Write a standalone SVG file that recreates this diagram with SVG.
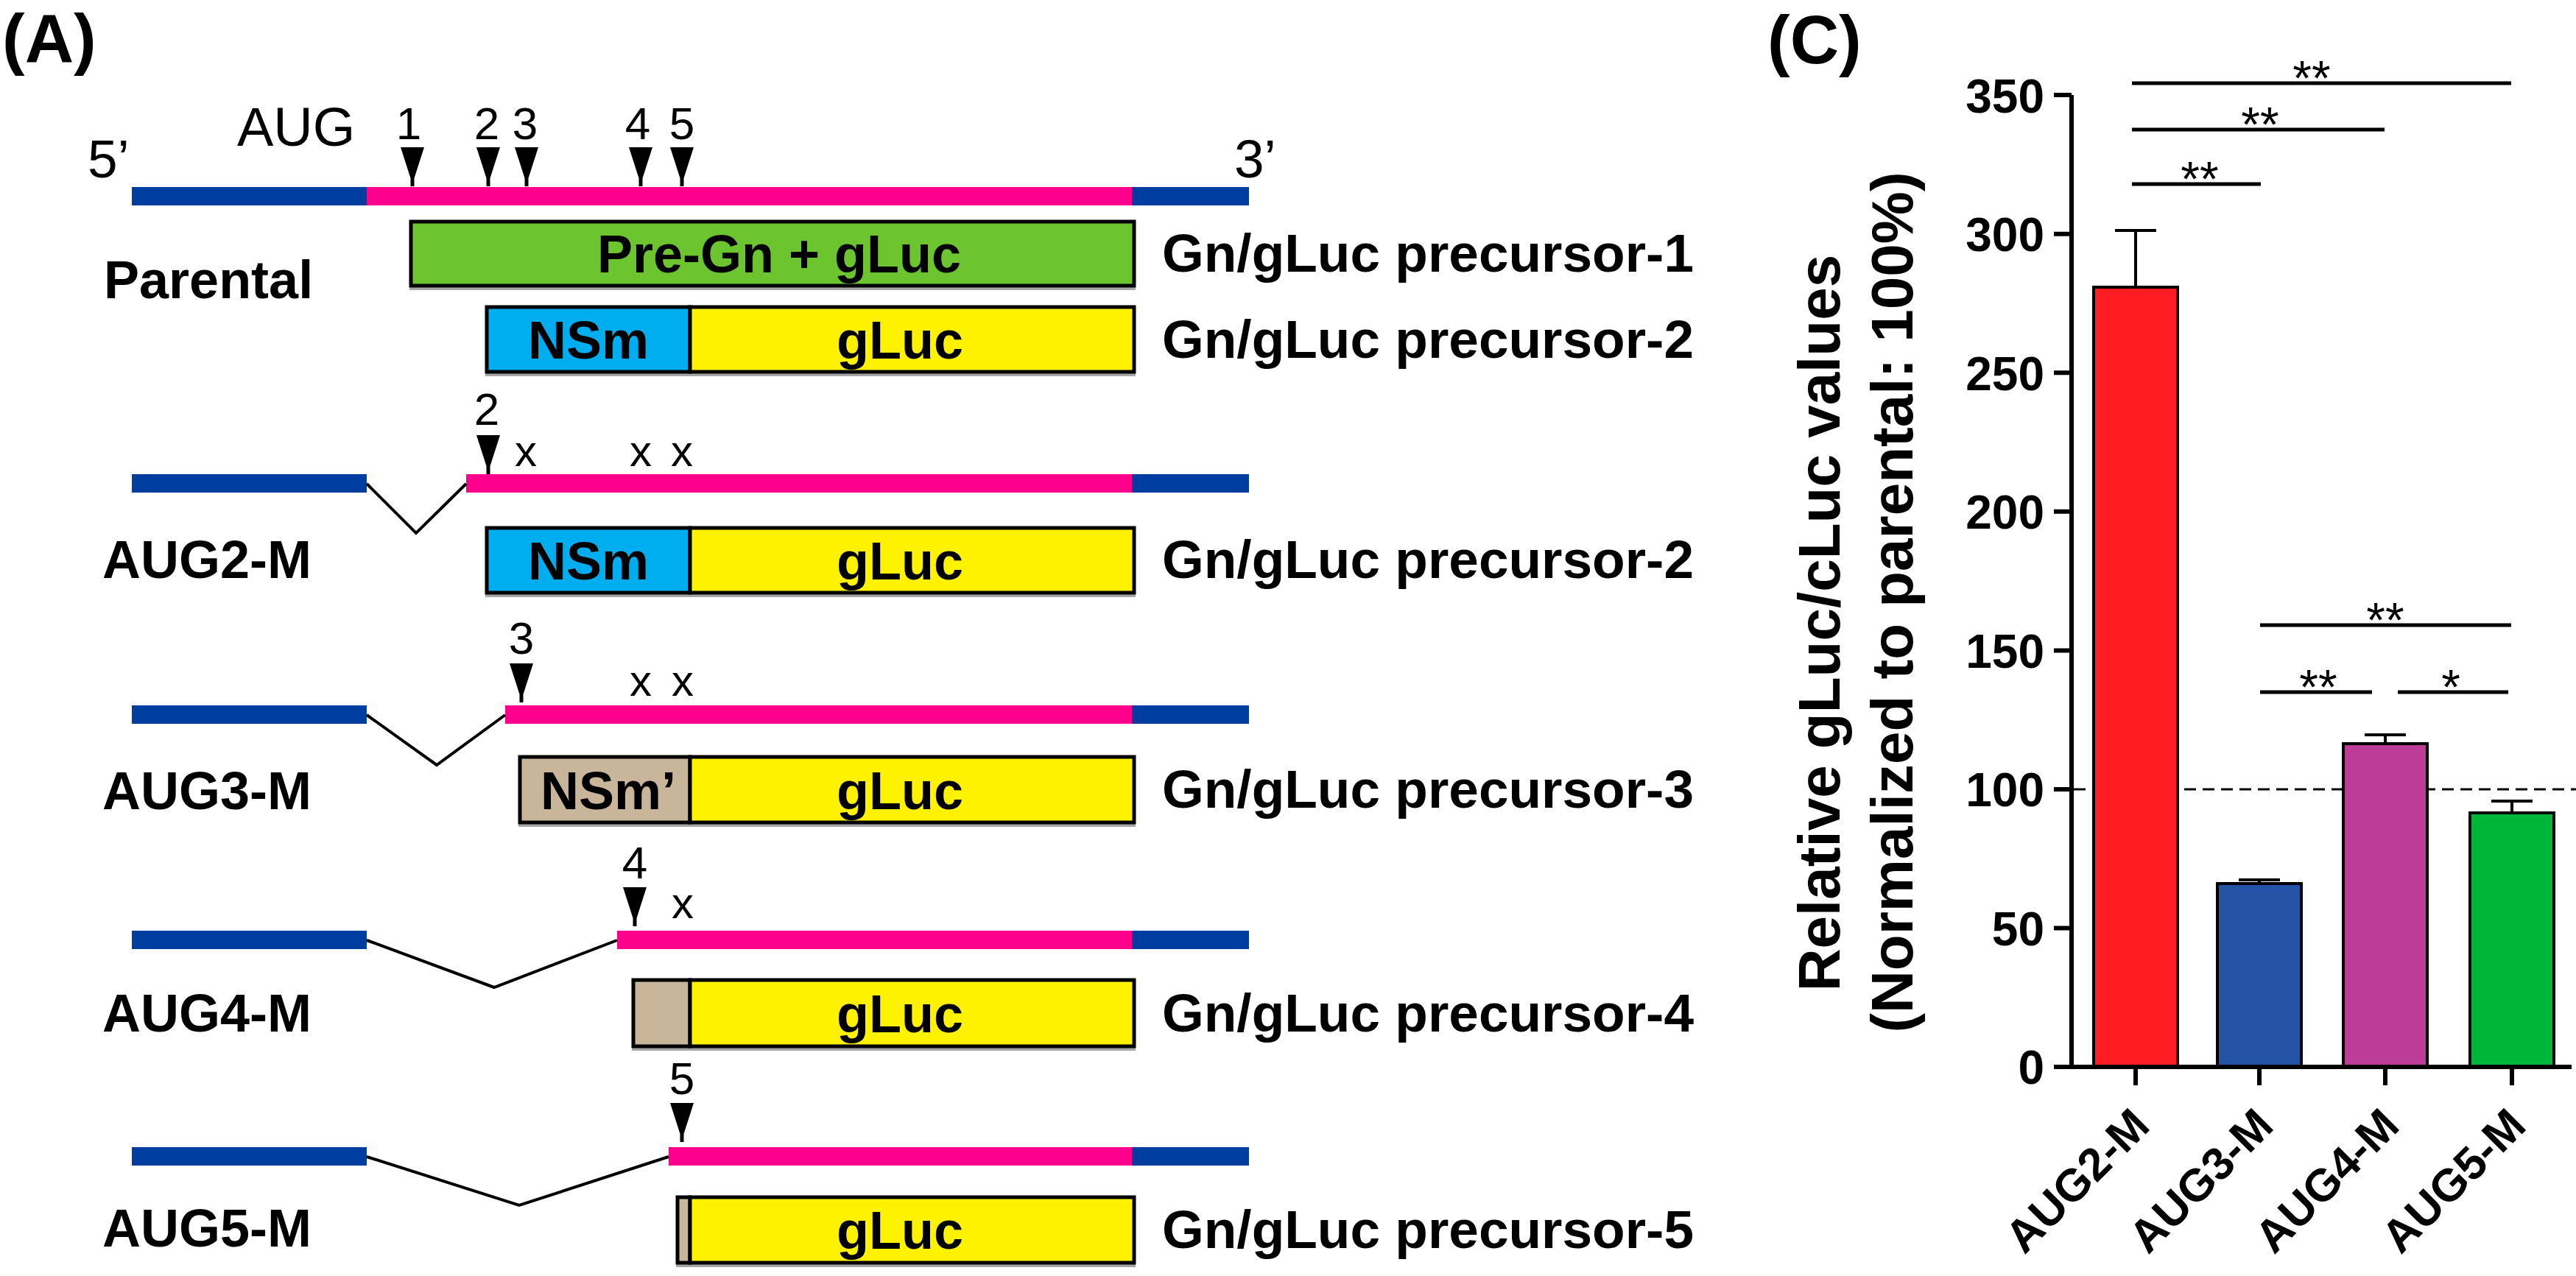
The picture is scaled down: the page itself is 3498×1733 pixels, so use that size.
<svg xmlns="http://www.w3.org/2000/svg" width="3498" height="1733" viewBox="0 0 3498 1733">
<defs>
<style>
text{font-family:'Liberation Sans',Arial,Helvetica,sans-serif;fill:#000}
.panel{font-weight:bold;font-size:92px}
.row{font-weight:bold;font-size:72px}
.prec{font-weight:bold;font-size:73px}
.box{font-weight:bold;font-size:72px;text-anchor:middle}
.num{font-size:62px;text-anchor:middle}
.x{font-size:60px;text-anchor:middle}
.end{font-size:73px}
.utr{fill:#003DA0}
.cds{fill:#FF008C}
.prot{stroke:#000;stroke-width:5}
.shadow{fill:#A6A6A6}
.green{fill:#6CC52E}
.cyan{fill:#00AEEF}
.yel{fill:#FFF200}
.tan{fill:#C8B59A}
.intr{fill:none;stroke:#000;stroke-width:4}
.tick{font-weight:bold;font-size:64px;text-anchor:end}
.ax{stroke:#000;stroke-width:6;fill:none}
.sig{stroke:#000;stroke-width:5}
.star{font-size:66px;text-anchor:middle}
.bar{stroke:#000;stroke-width:4}
.err{stroke:#000;stroke-width:4;fill:none}
.xl{font-weight:bold;font-size:62px;text-anchor:end}
.yl{font-weight:bold;font-size:80px;text-anchor:middle}
</style>
<path id="arr" d="M-16,0 H16 L2.5,42 V53 H-2.5 V42 Z" fill="#000"/>
</defs>
<rect width="3498" height="1733" fill="#fff"/>

<!-- Panel A -->
<text x="3" y="84" class="panel">(A)</text>

<g id="parental">
<text x="119" y="241" class="end">5’</text>
<text x="322" y="198" style="font-size:74px">AUG</text>
<text x="555" y="189" class="num">1</text>
<text x="661" y="189" class="num">2</text>
<text x="713" y="189" class="num">3</text>
<text x="866" y="189" class="num">4</text>
<text x="926" y="189" class="num">5</text>
<use href="#arr" transform="translate(560,200)"/>
<use href="#arr" transform="translate(663,200)"/>
<use href="#arr" transform="translate(715,200)"/>
<use href="#arr" transform="translate(870,200)"/>
<use href="#arr" transform="translate(926,200)"/>
<rect x="179" y="254" width="319" height="25" class="utr"/>
<rect x="498" y="254" width="1039" height="25" class="cds"/>
<rect x="1537" y="254" width="159" height="25" class="utr"/>
<text x="1676" y="241" class="end">3’</text>
<text x="141" y="405" class="row">Parental</text>
</g>

<g id="precursor1">
<rect x="556" y="390" width="986" height="4" class="shadow"/>
<rect x="558" y="301" width="982" height="87" class="prot green"/>
<text x="1058" y="370" class="box">Pre-Gn + gLuc</text>
<text x="1578" y="369" class="prec">Gn/gLuc precursor-1</text>
</g>

<g id="precursor2-parental">
<rect x="659" y="507" width="883" height="4" class="shadow"/>
<rect x="661" y="417" width="276" height="88" class="prot cyan"/>
<rect x="937" y="417" width="603" height="88" class="prot yel"/>
<text x="799" y="487" class="box">NSm</text>
<text x="1222" y="487" class="box">gLuc</text>
<text x="1578" y="486" class="prec">Gn/gLuc precursor-2</text>
</g>

<g id="aug2m">
<text x="661" y="577" class="num">2</text>
<use href="#arr" transform="translate(663,591)"/>
<text x="714" y="633" class="x">x</text>
<text x="870" y="633" class="x">x</text>
<text x="926" y="633" class="x">x</text>
<rect x="179" y="644" width="319" height="25" class="utr"/>
<rect x="633" y="644" width="904" height="25" class="cds"/>
<rect x="1537" y="644" width="159" height="25" class="utr"/>
<text x="139" y="785" class="row">AUG2-M</text>
<rect x="659" y="807" width="883" height="4" class="shadow"/>
<rect x="661" y="717" width="276" height="88" class="prot cyan"/>
<rect x="937" y="717" width="603" height="88" class="prot yel"/>
<text x="799" y="787" class="box">NSm</text>
<text x="1222" y="787" class="box">gLuc</text>
<text x="1578" y="785" class="prec">Gn/gLuc precursor-2</text>
</g>

<g id="aug3m">
<text x="708" y="888" class="num">3</text>
<use href="#arr" transform="translate(708,901)"/>
<text x="870" y="945" class="x">x</text>
<text x="927" y="945" class="x">x</text>
<rect x="179" y="958" width="319" height="25" class="utr"/>
<rect x="686" y="958" width="851" height="25" class="cds"/>
<rect x="1537" y="958" width="159" height="25" class="utr"/>
<text x="139" y="1099" class="row">AUG3-M</text>
<rect x="704" y="1119" width="838" height="4" class="shadow"/>
<rect x="706" y="1028" width="231" height="89" class="prot tan"/>
<rect x="937" y="1028" width="603" height="89" class="prot yel"/>
<text x="826" y="1099" class="box">NSm’</text>
<text x="1222" y="1099" class="box">gLuc</text>
<text x="1578" y="1097" class="prec">Gn/gLuc precursor-3</text>
</g>

<g id="aug4m">
<text x="862" y="1193" class="num">4</text>
<use href="#arr" transform="translate(862,1205)"/>
<text x="927" y="1247" class="x">x</text>
<rect x="179" y="1264" width="319" height="25" class="utr"/>
<rect x="838" y="1264" width="699" height="25" class="cds"/>
<rect x="1537" y="1264" width="159" height="25" class="utr"/>
<text x="139" y="1401" class="row">AUG4-M</text>
<rect x="858" y="1423" width="684" height="4" class="shadow"/>
<rect x="860" y="1331" width="77" height="90" class="prot tan"/>
<rect x="937" y="1331" width="603" height="90" class="prot yel"/>
<text x="1222" y="1402" class="box">gLuc</text>
<text x="1578" y="1401" class="prec">Gn/gLuc precursor-4</text>
</g>

<g id="aug5m">
<text x="926" y="1486" class="num">5</text>
<use href="#arr" transform="translate(926,1498)"/>
<rect x="179" y="1558" width="319" height="25" class="utr"/>
<rect x="908" y="1558" width="629" height="25" class="cds"/>
<rect x="1537" y="1558" width="159" height="25" class="utr"/>
<text x="139" y="1693" class="row">AUG5-M</text>
<rect x="918" y="1717" width="624" height="4" class="shadow"/>
<rect x="920" y="1626" width="17" height="89" class="prot tan"/>
<rect x="937" y="1626" width="603" height="89" class="prot yel"/>
<text x="1222" y="1696" class="box">gLuc</text>
<text x="1578" y="1695" class="prec">Gn/gLuc precursor-5</text>
</g>

<g id="connectors">
<polyline points="498,657 565,724 633,657" class="intr"/>
<polyline points="498,971 593,1039 686,971" class="intr"/>
<polyline points="498,1277 671,1341 838,1277" class="intr"/>
<polyline points="498,1571 705,1637 908,1571" class="intr"/>
</g>

<!-- Panel C -->
<text x="2400" y="86" class="panel">(C)</text>
<g id="chart">
<line x1="2816" y1="1072" x2="3498" y2="1072" stroke="#000" stroke-width="3" stroke-dasharray="16 9"/>
<g id="bars">
<rect x="2843" y="390" width="114" height="1059" class="bar" fill="#FF1D23"/>
<rect x="3011" y="1200" width="114" height="249" class="bar" fill="#2453A6"/>
<rect x="3182" y="1010" width="114" height="439" class="bar" fill="#BC3C98"/>
<rect x="3354" y="1104" width="114" height="345" class="bar" fill="#00B638"/>
<path class="err" d="M2900,390 V313 M2872,313 H2928 M3068,1200 V1195 M3040,1195 H3096 M3239,1010 V998 M3211,998 H3267 M3411,1104 V1088 M3383,1088 H3439"/>
</g>
<path class="ax" d="M2813,129 V1449 M2789,1449 H3492 M2789,129 H2813 M2789,317.7 H2813 M2789,506.3 H2813 M2789,694.8 H2813 M2789,883.4 H2813 M2789,1071.9 H2813 M2789,1260.5 H2813 M2900,1449 V1474 M3068,1449 V1474 M3239,1449 V1474 M3411,1449 V1474"/>
<text x="2776" y="153" class="tick">350</text>
<text x="2776" y="341" class="tick">300</text>
<text x="2776" y="530" class="tick">250</text>
<text x="2776" y="718" class="tick">200</text>
<text x="2776" y="907" class="tick">150</text>
<text x="2776" y="1095" class="tick">100</text>
<text x="2776" y="1284" class="tick">50</text>
<text x="2776" y="1472" class="tick">0</text>
<text class="yl" transform="translate(2498,846) rotate(-90)">Relative gLuc/cLuc values</text>
<text class="yl" transform="translate(2597,818) rotate(-90)">(Normalized to parental: 100%)</text>
<text class="xl" transform="translate(2922,1532) rotate(-45)">AUG2-M</text>
<text class="xl" transform="translate(3090,1532) rotate(-45)">AUG3-M</text>
<text class="xl" transform="translate(3261,1532) rotate(-45)">AUG4-M</text>
<text class="xl" transform="translate(3433,1532) rotate(-45)">AUG5-M</text>
<g id="significance">
<path class="sig" d="M2895,113 H3410 M2895,176 H3238 M2895,250 H3070 M3069,849 H3410 M3069,940 H3221 M3256,940 H3406"/>
<text x="3139" y="129" class="star">**</text>
<text x="3069" y="192" class="star">**</text>
<text x="2987" y="266" class="star">**</text>
<text x="3239" y="865" class="star">**</text>
<text x="3148" y="956" class="star">**</text>
<text x="3328" y="956" class="star">*</text>
</g>
</g>
</svg>
